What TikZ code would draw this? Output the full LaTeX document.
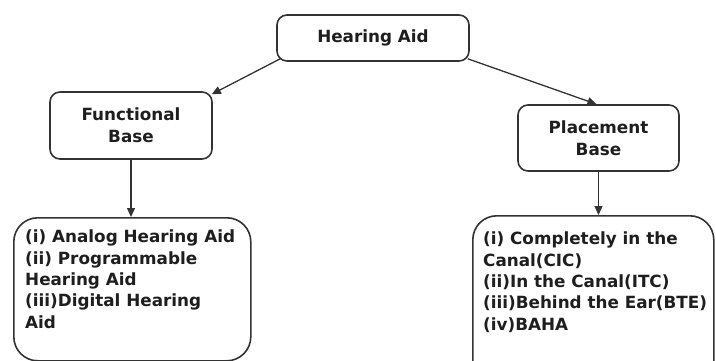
\documentclass[tikz,border=0pt]{standalone}
\usepackage{fontspec}
\setmainfont{DejaVu Sans}
\usetikzlibrary{arrows.meta}
\definecolor{edgecol}{HTML}{333333}
\definecolor{txtcol}{HTML}{1E1E1E}
\tikzset{
  box/.style={draw=edgecol, line width=1.6pt, rounded corners=10pt, align=center,
    text=txtcol, font=\fontsize{16.8}{22}\selectfont\bfseries, inner sep=0pt},
  bigbox/.style={draw=edgecol, line width=1.6pt, rounded corners=24pt, inner sep=0pt},
  listtext/.style={align=left, text=txtcol, font=\fontsize{16.8}{21.3}\selectfont\bfseries, inner sep=0pt, anchor=north west},
  conn/.style={draw=edgecol, line width=1.3pt, -{Triangle[length=9pt,width=8pt]}}
}
\begin{document}
\begin{tikzpicture}[x=1pt,y=-1pt]
\useasboundingbox (0,0) rectangle (716,361);
\clip (0,0) rectangle (716,361);
\node[box, minimum width=192pt, minimum height=46pt] (ha) at (373,38) {Hearing Aid};
\node[box, minimum width=162pt, minimum height=67pt] (fb) at (131,125.5) {Functional\\Base};
\node[box, minimum width=161pt, minimum height=66pt] (pb) at (598.5,138) {Placement\\Base};
\node[bigbox, minimum width=237pt, minimum height=143pt, anchor=north west] (lbox) at (13,217) {};
\node[bigbox, minimum width=241pt, minimum height=170pt, anchor=north west] (rbox) at (472,215) {};
\node[listtext] (ltext) at (25,230) {(i) Analog Hearing Aid\\(ii) Programmable\\Hearing Aid\\(iii)Digital Hearing\\Aid};
\node[listtext] (rtext) at (483,232) {(i) Completely in the\\Canal(CIC)\\(ii)In the Canal(ITC)\\(iii)Behind the Ear(BTE)\\(iv)BAHA};
\coordinate (hal) at ([xshift=4pt,yshift=3pt]ha.south west);
\coordinate (har) at ([xshift=-2pt,yshift=3pt]ha.south east);
\draw[conn] (hal) -- ([xshift=-1pt,yshift=-3pt]fb.north east);
\draw[conn] (har) -- ([xshift=-2pt]pb.north);
\draw[conn] (fb.south) -- (lbox.north -| fb.south);
\draw[conn] (pb.south) -- (rbox.north -| pb.south);
\end{tikzpicture}
\end{document}
